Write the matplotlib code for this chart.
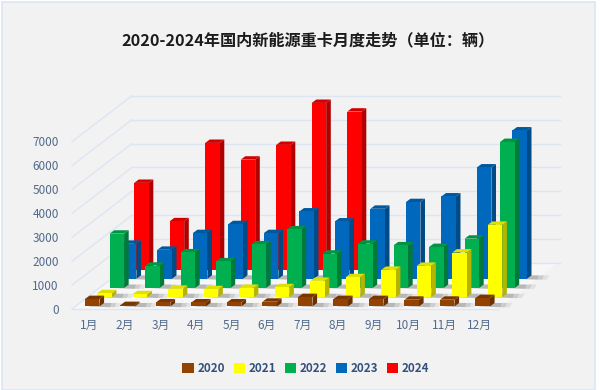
import matplotlib
matplotlib.use("Agg")
import matplotlib.pyplot as plt
from matplotlib.patches import Polygon, Patch, Rectangle

plt.rcParams['font.family'] = ['Noto Sans CJK SC', 'DejaVu Sans']

# valores
months = ['1月', '2月', '3月', '4月', '5月', '6月', '7月', '8月', '9月', '10月', '11月', '12月']
y2020 = [307, 56, 167, 167, 167, 195, 390, 307, 307, 279, 279, 349]
y2021 = [167, 126, 349, 335, 390, 418, 683, 837, 1144, 1311, 1869, 3027]
y2022 = [2273, 934, 1492, 1116, 1827, 2455, 1437, 1855, 1785, 1715, 2064, 6109]
y2023 = [1464, 1213, 1911, 2287, 1911, 2817, 2399, 2929, 3208, 3445, 4658, 6206]
y2024 = [3627, 2022, 5300, 4600, 5216, 6973, 6610]
y_ticks = [0, 1000, 2000, 3000, 4000, 5000, 6000, 7000]

series = [y2020, y2021, y2022, y2023, y2024]
years = ['2020', '2021', '2022', '2023', '2024']
front = ['#944200', '#ffff00', '#00b050', '#0068bd', '#ff0000']
side = ['#6b3000', '#b5b500', '#007a38', '#004a85', '#b00000']
top = ['#7a3600', '#e0e000', '#009444', '#00589f', '#d40000']

# escala: pixeles por unidad
px_cat = 35.5
px_val = 23.9 / 1000
dep_x = 12.3 / px_cat   # desplazamiento de cada fila en x
dep_y = 9.2 / px_val    # y en y
bar_w = 14.5 / px_cat
side_x = 4.6 / px_cat
side_y = 3.4 / px_val
wall_x = 60 / px_cat
wall_y = 46 / px_val
n = len(months)

fig = plt.figure(figsize=(6, 3.9), dpi=100, facecolor='white')
ax = fig.add_axes([0, 0, 1, 1])
ax.set_xlim(-72 / px_cat, (600 - 72) / px_cat)
ax.set_ylim(-(390 - 309) / px_val, 309 / px_val)
ax.axis('off')

# fondo y marco
ax.add_patch(Rectangle((0.004, 0.0), 0.988, 0.995, transform=ax.transAxes, fc='#f2f2f2',
                       ec='#dce6f2', lw=1.2, zorder=0))

# piso
ax.add_patch(Polygon([(0, 0), (n, 0), (n + wall_x, wall_y), (wall_x, wall_y)],
                     fc='#f7f7f7', ec='none', zorder=1))

# rejilla
grid = '#dce6f2'
for t in y_ticks:
    ax.plot([0, wall_x], [t, t + wall_y], color=grid, lw=1, zorder=1)
    ax.plot([wall_x, wall_x + 428 / px_cat], [t + wall_y, t + wall_y], color=grid, lw=1, zorder=1)
    ax.text(-0.37, t - 50, str(t), ha='right', va='center', fontsize=8.5, color='#526a8c')
ax.plot([0, n], [0, 0], color=grid, lw=1, zorder=1)

for i, m in enumerate(months):
    ax.text(i + 0.49, -700, m, ha='center', va='center', fontsize=8.5, color='#526a8c')

# barras, de la fila de atras hacia adelante
z = 2
for r in range(4, -1, -1):
    x0 = 0.366 + r * dep_x
    base = 110 + r * dep_y
    for i, v in enumerate(series[r]):
        xl = x0 + i
        xr = xl + bar_w
        # sombra en el piso
        for k, a in ((1.0, 0.14), (0.7, 0.2), (0.4, 0.26)):
            ax.add_patch(Polygon([(xl + 0.1, base), (xr + side_x + 0.42 * k, base - 40),
                                  (xr + side_x + 0.5 * k, base + side_y), (xr, base + side_y)],
                                 fc='#777777', ec='none', alpha=a, zorder=z))
        z += 1
        h = base + v
        ax.add_patch(Polygon([(xr, base), (xr + side_x, base + side_y), (xr + side_x, h + side_y), (xr, h)],
                             fc=side[r], ec='none', zorder=z))
        ax.add_patch(Polygon([(xl, h), (xr, h), (xr + side_x, h + side_y), (xl + side_x, h + side_y)],
                             fc=top[r], ec='none', zorder=z))
        ax.add_patch(Rectangle((xl, base), bar_w, v, fc=front[r], ec='none', zorder=z + 1))
        z += 2

ax.text(0.5138, 0.896, '2020-2024年国内新能源重卡月度走势（单位：辆）', transform=ax.transAxes,
        ha='center', va='center', fontsize=11.65, fontweight='bold', color='#1c1c1c')

handles = [Patch(fc=c, ec='none', label=y) for c, y in zip(front, years)]
leg = ax.legend(handles=handles, ncol=5, frameon=False, loc='center', bbox_to_anchor=(0.51, 0.055),
                handlelength=0.95, handleheight=0.95, handletextpad=0.35, columnspacing=0.72,
                labelcolor='#34507c', prop={'weight': 'bold', 'size': 8.4})

fig.savefig('out.png', dpi=100, facecolor='white')
